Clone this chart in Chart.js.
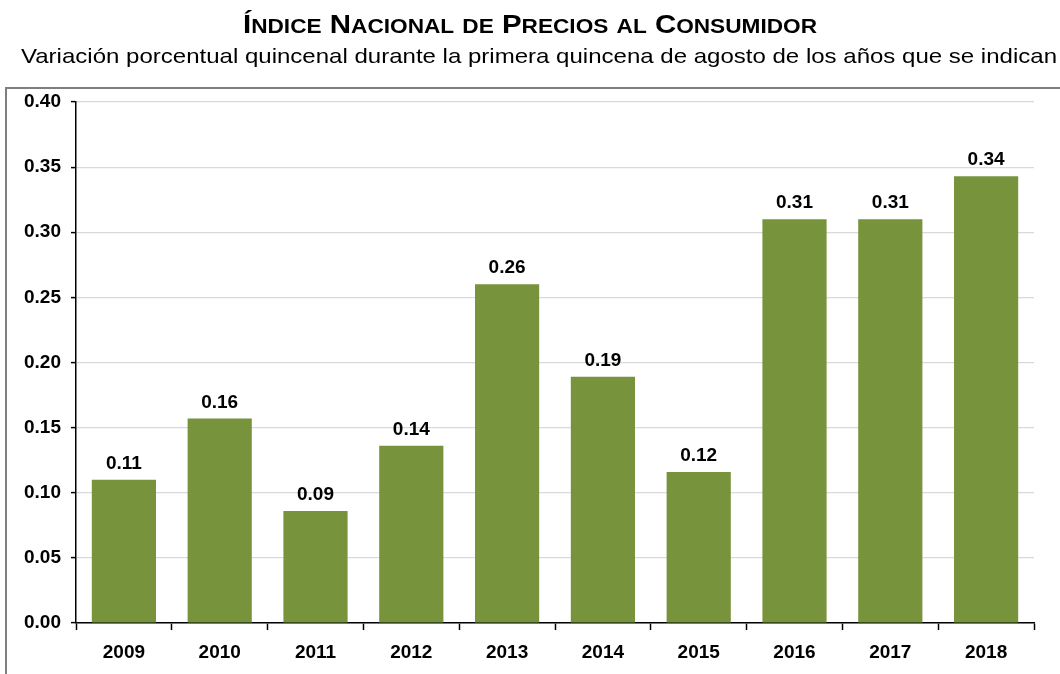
<!DOCTYPE html>
<html>
<head>
<meta charset="utf-8">
<script src="https://cdn.jsdelivr.net/npm/chart.js@4/dist/chart.umd.min.js"></script>
<style>
    body { margin: 0; background: #fff; }
    canvas { display: block; }
</style>
</head>
<body>
<canvas id="inpc-chart" width="1060" height="674"></canvas>
<script>
// Data
const years = ['2009', '2010', '2011', '2012', '2013', '2014', '2015', '2016', '2017', '2018'];
const variacion = [0.11, 0.157, 0.086, 0.136, 0.26, 0.189, 0.116, 0.31, 0.31, 0.343];
const yTicks = [0, 0.05, 0.10, 0.15, 0.20, 0.25, 0.30, 0.35, 0.40];

const titleText = 'Índice Nacional de Precios al Consumidor';
const subtitleText = 'Variación porcentual quincenal durante la primera quincena de agosto de los años que se indican';

const FONT = '"Liberation Sans", Arial, sans-serif';

// Title (small caps) and subtitle, stretched a bit wider like the original
const headingPlugin = {
    id: 'heading',
    afterDraw(chart) {
        const ctx = chart.ctx;
        ctx.save();
        ctx.fillStyle = '#000';
        ctx.textBaseline = 'alphabetic';

        // build small-caps runs: capitals big, the rest upper-cased small
        const big = 'bold 26px ' + FONT;
        const small = 'bold 20px ' + FONT;
        const runs = [];
        for (const ch of titleText) {
            const isCap = ch !== ' ' && ch === ch.toUpperCase();
            runs.push({ text: ch.toUpperCase(), font: (isCap || ch === ' ') ? big : small });
        }
        let total = 0;
        runs.forEach(r => { ctx.font = r.font; r.w = ctx.measureText(r.text).width; total += r.w; });
        const titleW = 574;
        ctx.save();
        ctx.translate(530 - titleW / 2, 33);
        ctx.scale(titleW / total, 1);
        let x = 0;
        runs.forEach(r => { ctx.font = r.font; ctx.fillText(r.text, x, 0); x += r.w; });
        ctx.restore();

        ctx.font = '21px ' + FONT;
        const subW = ctx.measureText(subtitleText).width;
        const subTarget = 1036;
        ctx.save();
        ctx.translate(539 - subTarget / 2, 63);
        ctx.scale(subTarget / subW, 1);
        ctx.fillText(subtitleText, 0, 0);
        ctx.restore();

        ctx.restore();
    }
};

// Outer frame of the plot box (only left and top edges show)
const framePlugin = {
    id: 'frame',
    beforeDraw(chart) {
        const ctx = chart.ctx;
        ctx.save();
        ctx.strokeStyle = '#7f7f7f';
        ctx.lineWidth = 2;
        ctx.strokeRect(6, 88, 1200, 800);
        ctx.restore();
    }
};

// Value labels above the bars
const valueLabels = {
    id: 'valueLabels',
    afterDatasetsDraw(chart) {
        const ctx = chart.ctx;
        const meta = chart.getDatasetMeta(0);
        ctx.save();
        ctx.font = 'bold 19px ' + FONT;
        ctx.fillStyle = '#000';
        ctx.textAlign = 'center';
        ctx.textBaseline = 'alphabetic';
        meta.data.forEach((bar, i) => {
            ctx.fillText(variacion[i].toFixed(2), bar.x, bar.y - 11);
        });
        ctx.restore();
    }
};

new Chart(document.getElementById('inpc-chart'), {
    type: 'bar',
    data: {
        labels: years,
        datasets: [{
            data: variacion,
            backgroundColor: '#77933C',
            barPercentage: 0.67,
            categoryPercentage: 1
        }]
    },
    options: {
        responsive: false,
        animation: false,
        layout: { padding: { left: 0, right: 26, top: 102, bottom: 0 } },
        plugins: {
            legend: { display: false },
            tooltip: { enabled: false },
            title: { display: false },
            subtitle: { display: false }
        },
        scales: {
            x: {
                offset: true,
                grid: {
                    offset: true,
                    drawOnChartArea: false,
                    drawTicks: true,
                    tickLength: 7,
                    tickColor: '#000',
                    tickWidth: 1.5
                },
                border: { color: '#000', width: 1.5 },
                ticks: {
                    color: '#000',
                    padding: 11,
                    font: { family: FONT, size: 19, weight: 'bold' }
                },
                afterFit(scale) { scale.height = 51; }
            },
            y: {
                min: 0,
                max: 0.4,
                afterBuildTicks(scale) {
                    scale.ticks = yTicks.map(v => ({ value: v }));
                },
                grid: {
                    color: '#d9d9d9',
                    lineWidth: 1.2,
                    tickLength: 5,
                    tickColor: '#000',
                    tickWidth: 1.5
                },
                border: { color: '#000', width: 1.5 },
                ticks: {
                    color: '#000',
                    padding: 10,
                    font: { family: FONT, size: 19, weight: 'bold' },
                    callback: (v) => Number(v).toFixed(2)
                },
                afterFit(scale) { scale.width = 76; }
            }
        }
    },
    plugins: [framePlugin, valueLabels, headingPlugin]
});
</script>
</body>
</html>
